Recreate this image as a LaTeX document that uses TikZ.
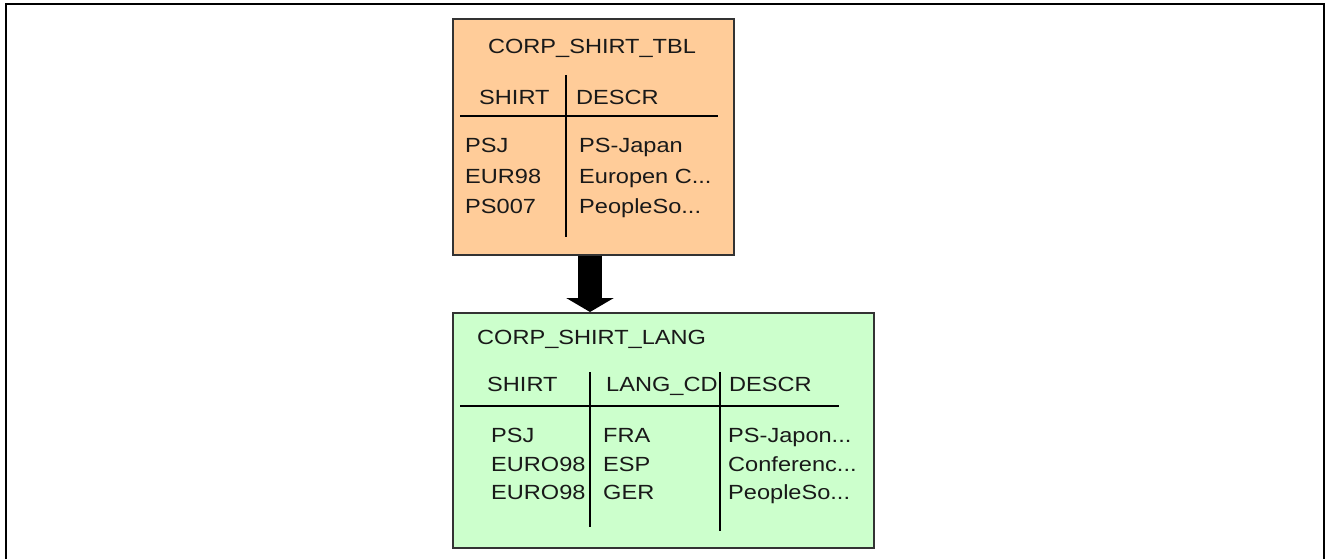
\documentclass[tikz,border=0pt]{standalone}
\usepackage{fontspec}
\setmainfont{Liberation Sans}[FakeStretch=1.15]
\usetikzlibrary{arrows.meta}

\definecolor{tblfill}{HTML}{FFCC99}
\definecolor{langfill}{HTML}{CCFFCC}
\definecolor{boxline}{HTML}{333333}

\tikzset{
  x=1pt, y=1pt,
  every node/.style={font=\fontsize{20.5}{24}\selectfont, text=black!90},
  tablebox/.style={draw=boxline, line width=1.6pt, rectangle, inner sep=0pt, anchor=north west},
  cell/.style={inner sep=0pt, anchor=west, text height=14.7pt, text depth=0pt},
  title/.style={inner sep=0pt, text height=14.7pt, text depth=0pt},
  rule/.style={line width=1.6pt, black},
  frame/.style={line width=2.6pt, black},
  bigarrow/.style={line width=24pt, -{Triangle[width=47pt, length=14pt]}},
}

\begin{document}
\begin{tikzpicture}
  \useasboundingbox (0,0) rectangle (1329,-559);

  % open outer frame
  \draw[frame] (6,-559) -- (6,-4) -- (1324,-4) -- (1324,-559);

  % table boxes
  \node[tablebox, fill=tblfill, minimum width=281pt, minimum height=236pt] (tbl) at (452,-18) {};
  \node[tablebox, fill=langfill, minimum width=421pt, minimum height=235pt] (lang) at (452,-312) {};

  % parent -> child arrow
  \draw[bigarrow] (tbl.south -| 590,0) -- (lang.north -| 590,0);

  % CORP_SHIRT_TBL
  \node[title] (tblname) at (592,-46) {CORP\_SHIRT\_TBL};
  \draw[rule] (566,-75) -- (566,-237);
  \draw[rule] (460,-116) -- (718,-116);
  \node[cell] (th1) at (479,-97) {SHIRT};
  \node[cell] (th2) at (576,-97) {DESCR};
  \node[cell] (t11) at (465,-145) {PSJ};
  \node[cell] (t21) at (465,-176) {EUR98};
  \node[cell] (t31) at (465,-206) {PS007};
  \node[cell] (t12) at (579,-145) {PS-Japan};
  \node[cell] (t22) at (579,-176) {Europen C...};
  \node[cell] (t32) at (579,-206) {PeopleSo...};

  % CORP_SHIRT_LANG
  \node[cell] (langname) at (477,-337) {CORP\_SHIRT\_LANG};
  \draw[rule] (590,-372) -- (590,-527);
  \draw[rule] (720,-372) -- (720,-531);
  \draw[rule] (460,-406) -- (839,-406);
  \node[cell] (lh1) at (487,-384) {SHIRT};
  \node[cell] (lh2) at (606,-384) {LANG\_CD};
  \node[cell] (lh3) at (729,-384) {DESCR};
  \node[cell] (l11) at (491,-435) {PSJ};
  \node[cell] (l21) at (491,-464) {EURO98};
  \node[cell] (l31) at (491,-492) {EURO98};
  \node[cell] (l12) at (603,-435) {FRA};
  \node[cell] (l22) at (603,-464) {ESP};
  \node[cell] (l32) at (603,-492) {GER};
  \node[cell] (l13) at (728,-435) {PS-Japon...};
  \node[cell] (l23) at (728,-464) {Conferenc...};
  \node[cell] (l33) at (728,-492) {PeopleSo...};
\end{tikzpicture}
\end{document}
